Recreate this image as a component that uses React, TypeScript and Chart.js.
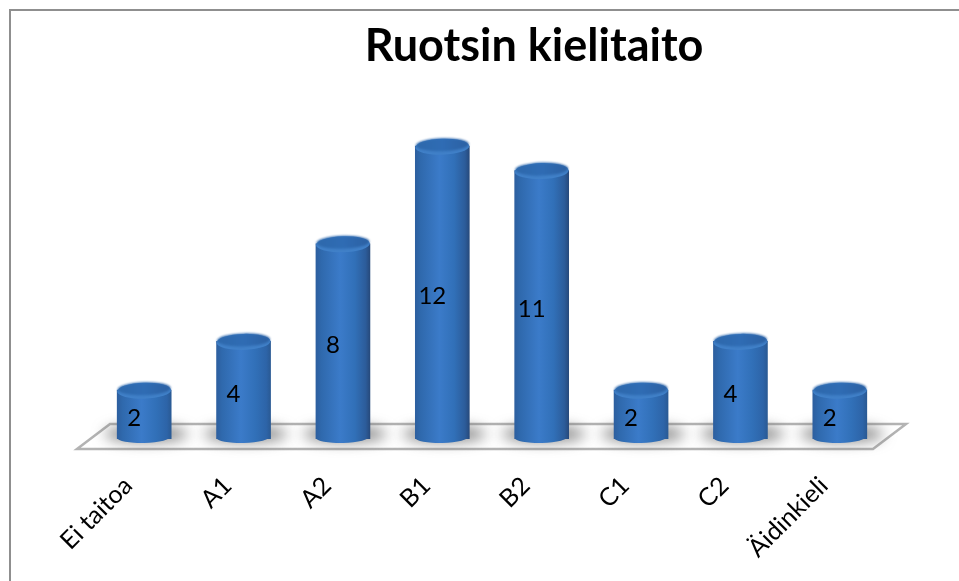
import React, { useEffect, useRef } from "react";
import { Chart, registerables } from "chart.js";

Chart.register(...registerables);

const categories = ["Ei taitoa", "A1", "A2", "B1", "B2", "C1", "C2", "Äidinkieli"];
const counts = [2, 4, 8, 12, 11, 2, 4, 2];
const chartTitle = "Ruotsin kielitaito";
const labelFont = "Lato, 'Open Sans', sans-serif";
const barWidth = 54;

// Horizontal shading that gives each bar its rounded, cylindrical look.
function cylinderFill(ctx: CanvasRenderingContext2D, left: number, right: number, tall: boolean) {
  const g = ctx.createLinearGradient(left, 0, right, 0);
  g.addColorStop(0, "#2d5f9f");
  g.addColorStop(0.1, "#2f69ad");
  g.addColorStop(0.45, "#3b7bc9");
  g.addColorStop(0.72, "#3170b8");
  g.addColorStop(0.92, tall ? "#2c5c9a" : "#2d64a8");
  g.addColorStop(1, tall ? "#274a7c" : "#2a5a94");
  return g;
}

const framePlugin = {
  id: "frame",
  beforeDraw(chart: Chart) {
    const { ctx, width, height } = chart;
    ctx.save();
    ctx.fillStyle = "#ffffff";
    ctx.fillRect(0, 0, width, height);
    ctx.strokeStyle = "#8f8f8f";
    ctx.lineWidth = 2;
    ctx.beginPath();
    ctx.moveTo(10, height);
    ctx.lineTo(10, 10);
    ctx.lineTo(width, 10);
    ctx.stroke();

    // Title, centred over the plotted columns rather than the canvas.
    ctx.fillStyle = "#000000";
    ctx.font = `bold 45px ${labelFont}`;
    ctx.textAlign = "center";
    ctx.textBaseline = "alphabetic";
    ctx.fillText(chartTitle, 534, 61);
    ctx.restore();
  },
  beforeDatasetsDraw(chart: Chart) {
    const { ctx } = chart;
    const meta = chart.getDatasetMeta(0);
    ctx.save();
    // Raised floor plane
    ctx.strokeStyle = "#b3b3b3";
    ctx.lineWidth = 2.5;
    ctx.beginPath();
    ctx.moveTo(77, 449);
    ctx.lineTo(873, 449);
    ctx.lineTo(906, 424);
    ctx.lineTo(110, 424);
    ctx.closePath();
    ctx.stroke();
    // Soft floor shadow around each column
    ctx.filter = "blur(7px)";
    ctx.fillStyle = "rgba(90,90,90,0.72)";
    for (const el of meta.data as any[]) {
      ctx.beginPath();
      ctx.ellipse(el.x + 2, el.base - 5, 42, 8, 0, 0, Math.PI * 2);
      ctx.fill();
    }
    ctx.restore();
  },
  afterDatasetsDraw(chart: Chart) {
    const { ctx } = chart;
    const meta = chart.getDatasetMeta(0);
    ctx.save();
    (meta.data as any[]).forEach((el, i) => {
      const rx = el.width / 2;
      const left = el.x - rx;
      const right = el.x + rx;

      // Rounded foot of the cylinder
      ctx.fillStyle = cylinderFill(ctx, left, right, counts[i] > 4);
      ctx.beginPath();
      ctx.ellipse(el.x, el.base - 2, rx, 6, -0.03, 0, Math.PI);
      ctx.fill();

      // Top cap, with a soft pale rim on its front edge
      ctx.fillStyle = "#4080c8";
      ctx.beginPath();
      ctx.ellipse(el.x, el.y + 0.5, rx, 8, -0.03, 0, Math.PI * 2);
      ctx.fill();
      const cap = ctx.createLinearGradient(left, 0, right, 0);
      cap.addColorStop(0, "#2e68ab");
      cap.addColorStop(0.5, "#2f6cb4");
      cap.addColorStop(1, "#2c60a2");
      ctx.save();
      ctx.filter = "blur(1px)";
      ctx.fillStyle = cap;
      ctx.beginPath();
      ctx.ellipse(el.x, el.y - 1.5, rx - 0.5, 6.5, -0.03, 0, Math.PI * 2);
      ctx.fill();
      ctx.restore();

      // Value label
      ctx.fillStyle = "#000000";
      ctx.font = `24px ${labelFont}`;
      ctx.textAlign = "center";
      ctx.textBaseline = "middle";
      ctx.fillText(String(counts[i]), el.x - 10, (el.y + el.base) / 2 + 4);
    });
    ctx.restore();
  },
};

export default function App() {
  const canvasRef = useRef<HTMLCanvasElement | null>(null);

  useEffect(() => {
    const canvas = canvasRef.current;
    if (!canvas) return;
    const chart = new Chart(canvas, {
      type: "bar",
      data: {
        labels: categories,
        datasets: [
          {
            data: counts,
            barThickness: barWidth,
            borderWidth: 0,
            backgroundColor: (c: any) => {
              const x = c.chart.scales.x?.getPixelForTick(c.dataIndex);
              if (x === undefined || Number.isNaN(x)) return "#2f6ab5";
              return cylinderFill(c.chart.ctx, x - barWidth / 2, x + barWidth / 2, counts[c.dataIndex] > 4);
            },
          },
        ],
      },
      options: {
        responsive: false,
        animation: false,
        layout: { padding: { left: 94.5, right: 69.5, top: 97.4, bottom: 0 } },
        plugins: { legend: { display: false }, title: { display: false }, tooltip: { enabled: false } },
        scales: {
          y: { display: false, min: 0, max: 14 },
          x: {
            grid: { display: false },
            border: { display: false },
            afterFit: (scale: any) => {
              scale.height = 142;
            },
            ticks: {
              minRotation: 45,
              maxRotation: 45,
              autoSkip: false,
              padding: 24,
              labelOffset: -16,
              color: "#000000",
              font: { family: labelFont, size: 25 },
            },
          },
        },
      },
      plugins: [framePlugin],
    } as any);
    return () => chart.destroy();
  }, []);

  return (
    <canvas
      ref={canvasRef}
      width={959}
      height={581}
      style={{ position: "fixed", left: 0, top: 0, display: "block" }}
    />
  );
}
